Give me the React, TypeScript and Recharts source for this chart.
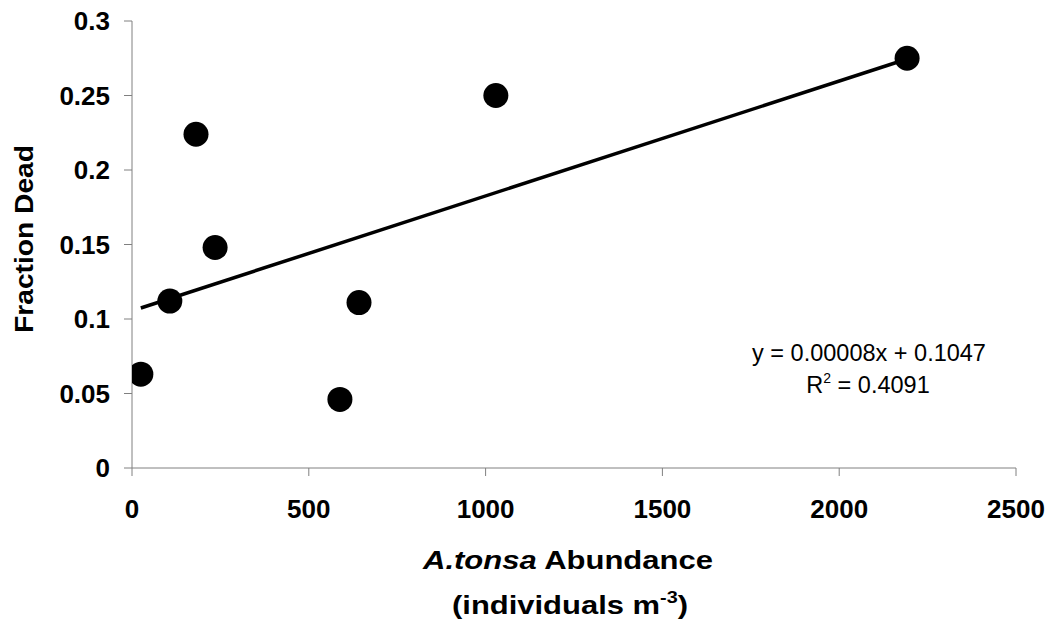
import React from 'react';
import { ScatterChart, Scatter, XAxis, YAxis, Customized } from 'recharts';

// Observations: A. tonsa abundance (individuals m^-3) vs fraction dead
const abundance = [25, 107, 181, 235, 588, 642, 1029, 2192];
const fractionDead = [0.063, 0.112, 0.224, 0.148, 0.046, 0.111, 0.25, 0.275];

// Linear trendline endpoints
const trendX = [25, 2192];
const trendY = [0.1074, 0.2745];

const xTicks = [0, 500, 1000, 1500, 2000, 2500];
const yTicks = [0, 0.05, 0.1, 0.15, 0.2, 0.25, 0.3];

const equationText = 'y = 0.00008x + 0.1047';
const r2Value = ' = 0.4091';

const points = abundance.map((x, i) => ({ x, y: fractionDead[i] }));
const trend = trendX.map((x, i) => ({ x, y: trendY[i] }));

const FONT = '"Liberation Sans", Arial, Helvetica, sans-serif';

const Dot = (props: any) => <circle cx={props.cx} cy={props.cy} r={12.5} fill="#000" />;
const NoDot = () => <g />;

const Titles = () => (
  <g fontFamily={FONT} fill="#000">
    <text
      transform="translate(33,239) rotate(-90)"
      textAnchor="middle"
      fontSize={25}
      fontWeight="bold"
      textLength={188}
      lengthAdjust="spacingAndGlyphs"
    >
      Fraction Dead
    </text>
    <text x={568} y={569} textAnchor="middle" fontSize={25} fontWeight="bold" textLength={290} lengthAdjust="spacingAndGlyphs">
      <tspan fontStyle="italic">A.tonsa</tspan>
      <tspan> Abundance</tspan>
    </text>
    <text x={570} y={614} textAnchor="middle" fontSize={25} fontWeight="bold" textLength={236} lengthAdjust="spacingAndGlyphs">
      <tspan>(individuals m</tspan>
      <tspan fontSize={16} dy={-11}>-3</tspan>
      <tspan dy={11}>)</tspan>
    </text>
    <text x={869} y={361} textAnchor="middle" fontSize={23.5}>
      {equationText}
    </text>
    <text x={868} y={393} textAnchor="middle" fontSize={23.5}>
      <tspan>R</tspan>
      <tspan fontSize={14} dy={-10}>2</tspan>
      <tspan dy={10}>{r2Value}</tspan>
    </text>
  </g>
);

export default function App() {
  return (
    <div style={{ position: 'absolute', left: 0, top: 0, width: 1055, height: 627, background: '#fff' }}>
      <ScatterChart width={1055} height={627} margin={{ top: 21, right: 39, bottom: 99, left: 32 }}>
        <XAxis
          type="number"
          dataKey="x"
          domain={[0, 2500]}
          ticks={xTicks}
          height={60}
          tickSize={8}
          tickMargin={24}
          axisLine={{ stroke: '#808080', strokeWidth: 1 }}
          tickLine={{ stroke: '#808080', strokeWidth: 1 }}
          tick={{ fill: '#000', fontSize: 26, fontWeight: 'bold', fontFamily: FONT }}
          allowDataOverflow
        />
        <YAxis
          type="number"
          dataKey="y"
          domain={[0, 0.3]}
          ticks={yTicks}
          width={100}
          tickSize={8}
          tickMargin={14}
          axisLine={{ stroke: '#808080', strokeWidth: 1 }}
          tickLine={{ stroke: '#808080', strokeWidth: 1 }}
          tick={{ fill: '#000', fontSize: 26, fontWeight: 'bold', fontFamily: FONT }}
          allowDataOverflow
        />
        <Scatter
          data={trend}
          line={{ stroke: '#000', strokeWidth: 3.5 }}
          lineType="joint"
          shape={NoDot}
          isAnimationActive={false}
        />
        <Scatter data={points} shape={Dot} fill="#000" isAnimationActive={false} />
        <Customized component={<Titles />} />
      </ScatterChart>
    </div>
  );
}
